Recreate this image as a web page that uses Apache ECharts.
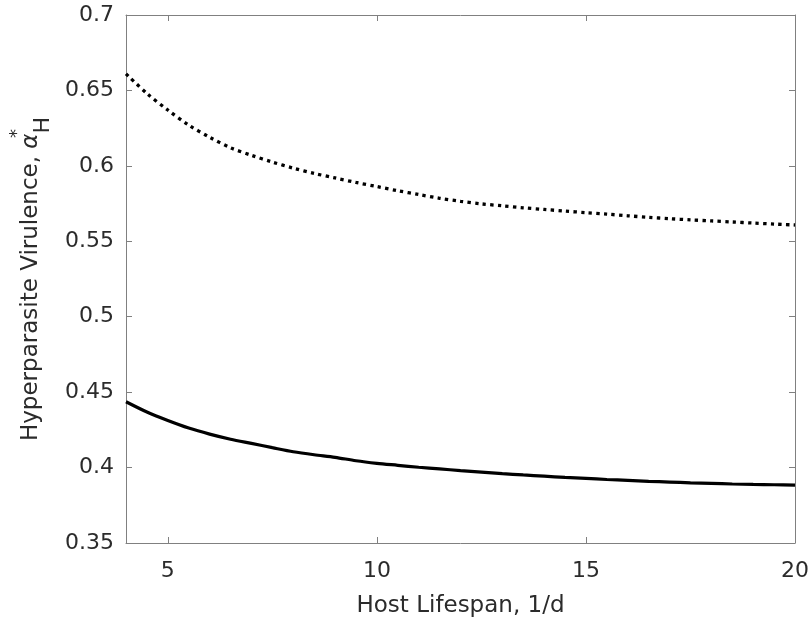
<!DOCTYPE html>
<html>
<head>
<meta charset="utf-8">
<script src="https://cdn.jsdelivr.net/npm/echarts@6/dist/echarts.min.js"></script>
<style>
html,body{margin:0;padding:0;background:#fff;}
#main{width:812px;height:623px;}
</style>
</head>
<body>
<div id="main"></div>
<script>
// Host lifespan values (x)
var lifespan = [4, 4.5, 5, 5.5, 6, 6.5, 7, 7.5, 8, 8.5, 9, 9.5, 10, 10.5, 11, 11.5, 12, 12.5, 13, 13.5, 14, 14.5, 15, 15.5, 16, 16.5, 17, 17.5, 18, 18.5, 19, 19.5, 20];
// Dotted curve (upper)
var dottedSeries = [0.661, 0.648, 0.637, 0.627, 0.619, 0.612, 0.607, 0.6025, 0.5985, 0.595, 0.592, 0.589, 0.5863, 0.5835, 0.581, 0.5785, 0.5765, 0.5748, 0.5735, 0.5722, 0.5711, 0.57, 0.569, 0.568, 0.5669, 0.5659, 0.565, 0.5642, 0.5635, 0.5628, 0.5621, 0.5614, 0.5608];
// Solid curve (lower)
var solidSeries = [0.4436, 0.4368, 0.4312, 0.4262, 0.4222, 0.4188, 0.416, 0.4132, 0.4105, 0.4085, 0.4068, 0.4045, 0.4028, 0.4015, 0.4002, 0.3991, 0.398, 0.397, 0.396, 0.3951, 0.3943, 0.3935, 0.3928, 0.3921, 0.3915, 0.3909, 0.3904, 0.3899, 0.3895, 0.3891, 0.3888, 0.3886, 0.3884];
var xTicks = [5, 10, 15, 20];
var yTicks = [0.35, 0.4, 0.45, 0.5, 0.55, 0.6, 0.65, 0.7];

function pairs(xs, ys){ return xs.map(function(x,i){ return [x, ys[i]]; }); }

var FONT = 'DejaVu Sans, Liberation Sans, Arial, sans-serif';
var TXT = '#2b2b2b';
var AX = '#808080';

var chart = echarts.init(document.getElementById('main'), null, {renderer:'canvas'});

var xCommon = {
  type:'value', min:4, max:20, interval:5,
  axisLine:{show:true, lineStyle:{color:AX, width:1}},
  splitLine:{show:false}
};
var yCommon = {
  type:'value', min:0.35, max:0.7, interval:0.05,
  axisLine:{show:true, lineStyle:{color:AX, width:1}},
  axisTick:{show:true, inside:true, length:6, lineStyle:{color:AX}},
  splitLine:{show:false}
};

chart.setOption({
  animation:false,
  backgroundColor:'#ffffff',
  grid:{left:124, top:15, width:673, height:529, containLabel:false},
  xAxis:[
    Object.assign({}, xCommon, {
      position:'bottom',
      axisTick:{show:true, inside:true, length:6, lineStyle:{color:AX}, customValues:xTicks},
      axisLabel:{show:true, color:TXT, fontFamily:FONT, fontSize:22, margin:17, customValues:xTicks,
        formatter:function(v){return String(v);}},
      name:'Host Lifespan, 1/d', nameLocation:'middle', nameGap:52,
      nameTextStyle:{color:TXT, fontFamily:FONT, fontSize:23}
    }),
    Object.assign({}, xCommon, {
      position:'top',
      axisTick:{show:true, inside:true, length:6, lineStyle:{color:AX}, customValues:xTicks},
      axisLabel:{show:false}
    })
  ],
  yAxis:[
    Object.assign({}, yCommon, {
      position:'left',
      axisLabel:{show:true, color:TXT, fontFamily:FONT, fontSize:22, margin:12,
        formatter:function(v){return String(+v.toFixed(2));}},
      name:'Hyperparasite Virulence, {a|α}{s|*}{h|H}',
      nameLocation:'middle', nameRotate:90, nameGap:72,
      nameTextStyle:{color:TXT, fontFamily:FONT, fontSize:23, lineHeight:46,
        rich:{
          a:{color:TXT, fontFamily:FONT, fontSize:23, fontStyle:'italic', lineHeight:46, verticalAlign:'middle'},
          s:{color:TXT, fontFamily:FONT, fontSize:18, width:0, lineHeight:46, verticalAlign:'top'},
          h:{color:TXT, fontFamily:FONT, fontSize:22, lineHeight:46, verticalAlign:'bottom'}
        }}
    }),
    Object.assign({}, yCommon, {
      position:'right',
      axisLabel:{show:false}
    })
  ],
  series:[
    {
      type:'line', xAxisIndex:0, yAxisIndex:0, data:pairs(lifespan, dottedSeries),
      smooth:0.3, showSymbol:false, symbol:'none',
      lineStyle:{color:'#000', width:3.3, type:[3.3,4.3], cap:'butt'}
    },
    {
      type:'line', xAxisIndex:0, yAxisIndex:0, data:pairs(lifespan, solidSeries),
      smooth:0.3, showSymbol:false, symbol:'none',
      lineStyle:{color:'#000', width:3.2, type:'solid'}
    }
  ]
});
</script>
</body>
</html>
